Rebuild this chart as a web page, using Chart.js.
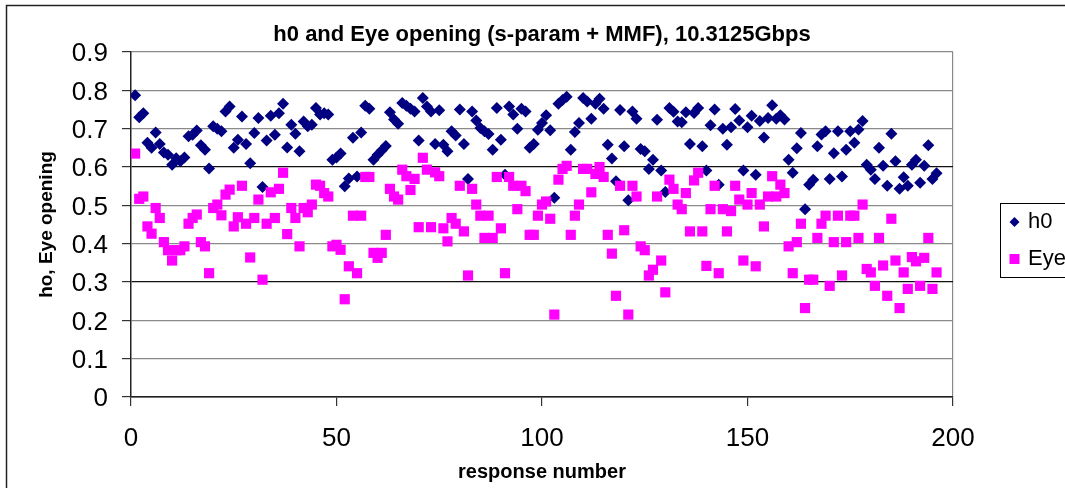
<!DOCTYPE html>
<html>
<head>
<meta charset="utf-8">
<title>h0 and Eye opening</title>
<script src="https://cdn.jsdelivr.net/npm/chart.js@4.4.1/dist/chart.umd.min.js"></script>
<style>
  html, body { margin: 0; padding: 0; background: #fff; }
  #wrap { width: 1065px; height: 488px; position: relative; }
</style>
</head>
<body>
<div id="wrap"><canvas id="c" width="1065" height="488"></canvas></div>
<script>
// Data, index i -> response number i+1
const h0 = [
  0.787, 0.73, 0.74, 0.663, 0.65, 0.69, 0.66, 0.638, 0.632, 0.606,
  0.623, 0.615, 0.625, 0.68, 0.684, 0.695, 0.657, 0.645, 0.596, 0.706,
  0.70, 0.693, 0.745, 0.758, 0.65, 0.671, 0.732, 0.66, 0.61, 0.689,
  0.728, 0.548, 0.669, 0.734, 0.684, 0.74, 0.765, 0.651, 0.71, 0.687,
  0.641, 0.719, 0.706, 0.71, 0.754, 0.737, 0.74, 0.737, 0.619, 0.625,
  0.635, 0.55, 0.57, 0.676, 0.575, 0.69, 0.76, 0.752, 0.619, 0.632,
  0.643, 0.655, 0.743, 0.724, 0.713, 0.767, 0.76, 0.752, 0.745, 0.669,
  0.78, 0.758, 0.745, 0.66, 0.748, 0.658, 0.641, 0.693, 0.682, 0.75,
  0.66, 0.569, 0.745, 0.721, 0.702, 0.693, 0.686, 0.645, 0.754, 0.671,
  0.58, 0.758, 0.737, 0.70, 0.752, 0.745, 0.65, 0.66, 0.697, 0.715,
  0.735, 0.696, 0.52, 0.765, 0.775, 0.783, 0.645, 0.691, 0.715, 0.78,
  0.771, 0.726, 0.765, 0.778, 0.752, 0.658, 0.622, 0.563, 0.749, 0.654,
  0.513, 0.745, 0.726, 0.647, 0.641, 0.595, 0.619, 0.723, 0.591, 0.535,
  0.754, 0.744, 0.719, 0.717, 0.743, 0.66, 0.741, 0.754, 0.654, 0.591,
  0.709, 0.75, 0.554, 0.70, 0.658, 0.704, 0.751, 0.721, 0.591, 0.704,
  0.734, 0.58, 0.72, 0.677, 0.728, 0.761, 0.726, 0.735, 0.724, 0.619,
  0.585, 0.649, 0.689, 0.49, 0.554, 0.567, 0.654, 0.685, 0.693, 0.569,
  0.636, 0.693, 0.575, 0.645, 0.693, 0.663, 0.698, 0.72, 0.606, 0.593,
  0.569, 0.65, 0.603, 0.551, 0.687, 0.615, 0.543, 0.573, 0.551, 0.606,
  0.619, 0.559, 0.603, 0.657, 0.569, 0.584
];
const eyeOpening = [
  0.635, 0.517, 0.523, 0.445, 0.426, 0.493, 0.467, 0.404, 0.383, 0.356,
  0.383, 0.383, 0.393, 0.452, 0.467, 0.476, 0.404, 0.393, 0.323, 0.493,
  0.502, 0.474, 0.528, 0.541, 0.445, 0.469, 0.551, 0.452, 0.364, 0.467,
  0.515, 0.306, 0.452, 0.534, 0.467, 0.543, 0.585, 0.425, 0.493, 0.467,
  0.393, 0.493, 0.482, 0.502, 0.554, 0.551, 0.532, 0.523, 0.393, 0.397,
  0.384, 0.255, 0.341, 0.473, 0.323, 0.473, 0.574, 0.574, 0.376, 0.363,
  0.376, 0.423, 0.543, 0.523, 0.515, 0.593, 0.576, 0.54, 0.569, 0.443,
  0.624, 0.593, 0.443, 0.586, 0.576, 0.44, 0.406, 0.467, 0.452, 0.551,
  0.432, 0.317, 0.543, 0.502, 0.473, 0.415, 0.473, 0.415, 0.574, 0.44,
  0.323, 0.574, 0.551, 0.49, 0.551, 0.537, 0.423, 0.423, 0.473, 0.502,
  0.51, 0.465, 0.215, 0.567, 0.595, 0.603, 0.423, 0.473, 0.502, 0.595,
  0.595, 0.534, 0.582, 0.60, 0.574, 0.423, 0.374, 0.264, 0.551, 0.435,
  0.215, 0.551, 0.523, 0.393, 0.383, 0.317, 0.332, 0.523, 0.356, 0.273,
  0.567, 0.543, 0.502, 0.49, 0.532, 0.432, 0.565, 0.585, 0.432, 0.342,
  0.49, 0.551, 0.323, 0.49, 0.432, 0.485, 0.551, 0.515, 0.356, 0.502,
  0.532, 0.341, 0.502, 0.445, 0.523, 0.576, 0.523, 0.554, 0.532, 0.393,
  0.323, 0.404, 0.452, 0.232, 0.306, 0.306, 0.415, 0.452, 0.473, 0.29,
  0.404, 0.473, 0.317, 0.404, 0.473, 0.473, 0.415, 0.502, 0.334, 0.325,
  0.29, 0.415, 0.343, 0.264, 0.465, 0.356, 0.232, 0.325, 0.282, 0.365,
  0.354, 0.29, 0.363, 0.415, 0.282, 0.325
];
const responseNumber = h0.map((_, i) => i + 1);

const FONT = '"Liberation Sans", Arial, Helvetica, sans-serif';
const NAVY = '#000080';
const MAGENTA = '#FF00FF';

const toXY = (ys) => ys.map((y, i) => ({ x: responseNumber[i], y }));
const near = (a, b) => Math.abs(a - b) < 1e-6;

// white page + outer frame
const framePlugin = {
  id: 'frame',
  beforeDraw(chart) {
    const ctx = chart.ctx;
    ctx.save();
    ctx.fillStyle = '#fff';
    ctx.fillRect(0, 0, chart.width, chart.height);
    ctx.strokeStyle = '#222';
    ctx.lineWidth = 1.5;
    ctx.strokeRect(6.5, 5.5, chart.width + 20, chart.height + 20);
    ctx.restore();
  }
};

// legend box that runs off the right edge like the original
function marker(ctx, style, x, y, r) {
  ctx.beginPath();
  if (style === 'rectRot') {
    ctx.moveTo(x - r, y); ctx.lineTo(x, y - r); ctx.lineTo(x + r, y); ctx.lineTo(x, y + r);
  } else {
    ctx.rect(x - r, y - r, 2 * r, 2 * r);
  }
  ctx.closePath();
  ctx.fill();
}
const legendPlugin = {
  id: 'sideLegend',
  afterDraw(chart) {
    const ctx = chart.ctx;
    const rows = [222, 259];
    ctx.save();
    ctx.strokeStyle = '#000';
    ctx.lineWidth = 1;
    ctx.strokeRect(1000.5, 203.5, 120, 74);
    ctx.font = '22px ' + FONT;
    ctx.textAlign = 'left';
    ctx.textBaseline = 'middle';
    chart.data.datasets.forEach((ds, i) => {
      ctx.fillStyle = ds.backgroundColor;
      marker(ctx, ds.pointStyle, 1014.5, rows[i], ds.pointStyle === 'rectRot' ? 5 : 5);
      ctx.fillStyle = '#000';
      ctx.fillText(ds.label, 1028, rows[i]);
    });
    ctx.restore();
  }
};

new Chart(document.getElementById('c'), {
  type: 'scatter',
  data: {
    datasets: [
      { label: 'h0', data: toXY(h0), order: 1,
        pointStyle: 'rectRot', radius: 6, borderWidth: 0,
        backgroundColor: NAVY, borderColor: NAVY },
      { label: 'Eye opening', data: toXY(eyeOpening), order: 0,
        pointStyle: 'rect', radius: 7.2, borderWidth: 0,
        backgroundColor: MAGENTA, borderColor: MAGENTA }
    ]
  },
  options: {
    responsive: false,
    animation: false,
    layout: { padding: { left: 0, right: 112, top: 0, bottom: 0 } },
    plugins: {
      legend: { display: false },
      tooltip: { enabled: false },
      title: {
        display: true,
        text: 'h0 and Eye opening (s-param + MMF), 10.3125Gbps',
        fullSize: false,
        color: '#000',
        font: { family: FONT, size: 22, weight: 'bold' },
        padding: { top: 22.2, bottom: 3.4 }
      }
    },
    scales: {
      x: {
        type: 'linear', min: 0, max: 200,
        afterFit: (s) => { s.height = 91; },
        ticks: { stepSize: 50, color: '#000', padding: 17,
                 font: { family: FONT, size: 26 } },
        grid: {
          drawOnChartArea: true, tickLength: 9, tickColor: '#333',
          color: (c) => (c.tick && c.tick.value === 200) ? '#8a8a8a' : 'rgba(0,0,0,0)',
          lineWidth: 1.2
        },
        border: { display: true, color: '#222', width: 1.5 },
        title: { display: true, text: 'response number', color: '#000',
                 font: { family: FONT, size: 20, weight: 'bold' },
                 padding: { top: 0, bottom: 3.7 } }
      },
      y: {
        min: 0, max: 0.9,
        afterFit: (s) => { s.width = 131; },
        ticks: { stepSize: 0.1, color: '#000', padding: 14, labelOffset: 2,
                 font: { family: FONT, size: 26 },
                 callback: (v) => String(Number(v.toFixed(1))) },
        grid: {
          tickLength: 9, tickColor: '#333', lineWidth: 1.2,
          color: (c) => {
            const v = c.tick ? c.tick.value : -1;
            return (near(v, 0.3) || near(v, 0.6) || near(v, 0)) ? '#111' : '#8a8a8a';
          }
        },
        border: { display: true, color: '#222', width: 1.5 },
        title: { display: true, text: 'ho, Eye opening', color: '#000',
                 font: { family: FONT, size: 19, weight: 'bold' },
                 padding: { top: 35, bottom: 0 } }
      }
    }
  },
  plugins: [framePlugin, legendPlugin]
});
</script>
</body>
</html>
